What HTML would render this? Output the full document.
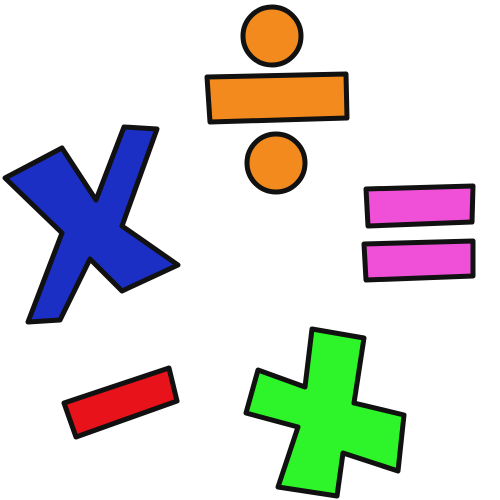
<!DOCTYPE html>
<html><head><meta charset="utf-8"><style>
html,body{margin:0;padding:0;background:#fff;}
svg{display:block;}
</style></head><body>
<svg width="500" height="500" viewBox="0 0 500 500">
<g stroke="#111" stroke-width="5" stroke-linejoin="round">
  <circle cx="272" cy="36" r="29" fill="#f28a1e"/>
  <polygon points="207,77 346,74 347,118 210,122" fill="#f28a1e"/>
  <circle cx="276" cy="163" r="29" fill="#f28a1e"/>
  <polygon fill="#1b2fc4" points="5,178 62,148 96,200 124,127 157,129 122,226 178,265 122,291 90,259 60,320 28,322 62,233"/>
  <polygon points="366,189 473,186 472,222 368,226" fill="#f04fd8"/>
  <polygon points="364,244 473,241 473,276 366,280" fill="#f04fd8"/>
  <polygon points="64,403 169,368 177,401 76,437" fill="#e8121a"/>
  <polygon fill="#2df52a" points="312,329 364,338 354,403 404,415 398,471 343,453 337,496 278,487 298,427 246,413 258,370 305,387"/>
</g>
</svg>
</body></html>
